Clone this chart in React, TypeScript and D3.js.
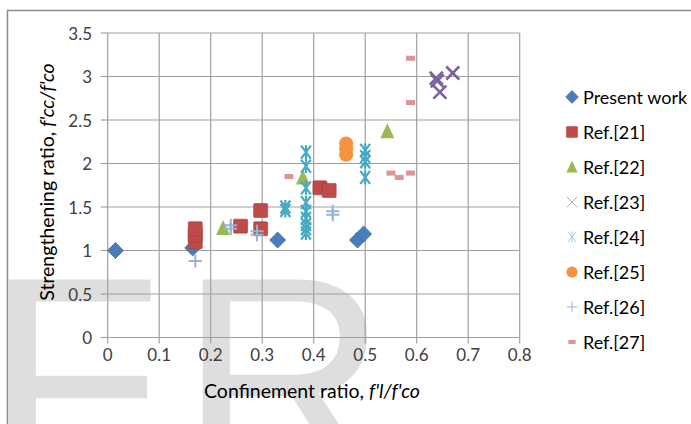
import React from "react";
import * as d3 from "d3";

// Confinement ratio (x) vs strengthening ratio (y) for each source
const presentX = [0.015, 0.165, 0.33, 0.485, 0.497];
const presentY = [1.0, 1.03, 1.12, 1.12, 1.19];

const ref21X = [0.17, 0.17, 0.17, 0.258, 0.297, 0.297, 0.412, 0.43];
const ref21Y = [1.1, 1.18, 1.25, 1.28, 1.46, 1.25, 1.72, 1.69];

const ref22X = [0.224, 0.379, 0.543];
const ref22Y = [1.26, 1.84, 2.37];

const ref23X = [0.638, 0.64, 0.645, 0.67];
const ref23Y = [2.98, 2.95, 2.82, 3.04];

const ref24X = [0.345, 0.345, 0.385, 0.385, 0.385, 0.385, 0.385, 0.385, 0.385, 0.385, 0.385, 0.5, 0.5, 0.5, 0.5];
const ref24Y = [1.5, 1.46, 2.13, 1.97, 1.72, 1.55, 1.45, 1.37, 1.3, 1.25, 1.2, 2.15, 2.08, 2.02, 1.84];

const ref25X = [0.463, 0.463, 0.463];
const ref25Y = [2.1, 2.17, 2.23];

const ref26X = [0.17, 0.239, 0.239, 0.29, 0.29, 0.437, 0.437];
const ref26Y = [0.88, 1.25, 1.29, 1.18, 1.22, 1.41, 1.45];

const ref27X = [0.352, 0.55, 0.566, 0.588, 0.588, 0.588];
const ref27Y = [1.85, 1.89, 1.84, 1.89, 2.7, 3.21];

const xTicks = [0, 0.1, 0.2, 0.3, 0.4, 0.5, 0.6, 0.7, 0.8];
const yTicks = [0, 0.5, 1, 1.5, 2, 2.5, 3, 3.5];

const seriesNames = ["Present work", "Ref.[21]", "Ref.[22]", "Ref.[23]", "Ref.[24]", "Ref.[25]", "Ref.[26]", "Ref.[27]"];

type Kind = "diamond" | "square" | "triangle" | "x" | "star" | "circle" | "plus" | "dash";

const series: { name: string; xs: number[]; ys: number[]; kind: Kind; color: string; light: string }[] = [
  { name: seriesNames[0], xs: presentX, ys: presentY, kind: "diamond", color: "#4A7EBB", light: "#4A7EBB" },
  { name: seriesNames[1], xs: ref21X, ys: ref21Y, kind: "square", color: "#BE4B48", light: "#BE4B48" },
  { name: seriesNames[2], xs: ref22X, ys: ref22Y, kind: "triangle", color: "#98B954", light: "#98B954" },
  { name: seriesNames[3], xs: ref23X, ys: ref23Y, kind: "x", color: "#7D60A0", light: "#B3A2C7" },
  { name: seriesNames[4], xs: ref24X, ys: ref24Y, kind: "star", color: "#46AAC5", light: "#93CDDD" },
  { name: seriesNames[5], xs: ref25X, ys: ref25Y, kind: "circle", color: "#F69240", light: "#F69240" },
  { name: seriesNames[6], xs: ref26X, ys: ref26Y, kind: "plus", color: "#95B3D7", light: "#95B3D7" },
  { name: seriesNames[7], xs: ref27X, ys: ref27Y, kind: "dash", color: "#D99694", light: "#D99694" },
];

const W = 691;
const H = 424;
const FONT = "Lato, 'Open Sans', sans-serif";

const x = d3.scaleLinear().domain([0, 0.8]).range([107.7, 519.7]);
const y = d3.scaleLinear().domain([0, 3.5]).range([337.5, 33]);

function Marker({ kind, cx, cy, color, thin }: { kind: Kind; cx: number; cy: number; color: string; thin?: boolean }) {
  const s = 7;
  const sw = thin ? 1.2 : 2.6;
  switch (kind) {
    case "diamond": {
      const d = 8;
      return (
        <path
          d={`M${cx},${cy - d}L${cx + d},${cy}L${cx},${cy + d}L${cx - d},${cy}Z`}
          fill={color}
          stroke="#3A6AA5"
          strokeWidth={0.8}
        />
      );
    }
    case "square":
      return <rect x={cx - s} y={cy - s} width={2 * s} height={2 * s} fill={color} stroke="#A23C3A" strokeWidth={0.6} rx={1} />;
    case "triangle":
      return <path d={`M${cx},${cy - s - 1}L${cx + s},${cy + s}L${cx - s},${cy + s}Z`} fill={color} />;
    case "x": {
      const r = 6.5;
      return (
        <path
          d={`M${cx - r},${cy - r}L${cx + r},${cy + r}M${cx - r},${cy + r}L${cx + r},${cy - r}`}
          stroke={color}
          strokeWidth={sw}
          fill="none"
        />
      );
    }
    case "star": {
      const r = 6.5;
      return (
        <path
          d={`M${cx - r * 0.75},${cy - r}L${cx + r * 0.75},${cy + r}M${cx - r * 0.75},${cy + r}L${cx + r * 0.75},${cy - r}M${cx},${cy - r - 0.5}L${cx},${cy + r + 0.5}`}
          stroke={color}
          strokeWidth={thin ? 1.2 : 2.2}
          fill="none"
        />
      );
    }
    case "circle":
      return <circle cx={cx} cy={cy} r={s} fill={color} />;
    case "plus": {
      const r = 6.5;
      return (
        <path
          d={`M${cx - r},${cy}L${cx + r},${cy}M${cx},${cy - r}L${cx},${cy + r}`}
          stroke={color}
          strokeWidth={thin ? 1.2 : 2}
          fill="none"
        />
      );
    }
    case "dash":
      return <rect x={cx - 4.5} y={cy - 2.5} width={9} height={5} fill={color} />;
  }
}

export default function App() {
  return (
    <svg
      width={W}
      height={H}
      style={{ position: "absolute", left: 0, top: 0, display: "block", background: "#fff" }}
      fontFamily={FONT}
    >
      <rect x={0} y={0} width={W} height={H} fill="#fff" />

      {/* background lettering */}
      <g fill="#DEDEDE" fontFamily="'Liberation Sans', Arial, sans-serif" fontSize={290}>
        <text x={-15} y={479}>F</text>
        <text x={179} y={479}>R</text>
      </g>

      {/* chart frame */}
      <rect x={7.5} y={10.5} width={720} height={500} fill="none" stroke="#8C8C8C" strokeWidth={1.5} />

      {/* grid */}
      <g stroke="#A0A0A0" strokeWidth={1.2}>
        {yTicks.map((t) => (
          <line key={"gy" + t} x1={x(0)} x2={x(0.8)} y1={y(t)} y2={y(t)} />
        ))}
        {xTicks.map((t) => (
          <line key={"gx" + t} x1={x(t)} x2={x(t)} y1={y(3.5)} y2={y(0)} />
        ))}
      </g>
      {/* ticks */}
      <g stroke="#A0A0A0" strokeWidth={1.2}>
        {yTicks.map((t) => (
          <line key={"ty" + t} x1={x(0) - 7} x2={x(0)} y1={y(t)} y2={y(t)} />
        ))}
        {xTicks.map((t) => (
          <line key={"tx" + t} x1={x(t)} x2={x(t)} y1={y(0)} y2={y(0) + 6} />
        ))}
      </g>

      {/* tick labels */}
      <g fontSize={17} fill="#404040">
        {yTicks.map((t) => (
          <text key={"ly" + t} x={92} y={y(t)} textAnchor="end" dominantBaseline="central">
            {d3.format("~g")(t)}
          </text>
        ))}
        {xTicks.map((t) => (
          <text key={"lx" + t} x={x(t)} y={354} textAnchor="middle" dominantBaseline="central">
            {d3.format("~g")(t)}
          </text>
        ))}
      </g>

      {/* axis titles */}
      <text x={312} y={390} textAnchor="middle" dominantBaseline="central" fontSize={19.5} fill="#000">
        Confinement ratio, <tspan fontStyle="italic">f'l/f'co</tspan>
      </text>
      <text
        transform={`translate(46,182) rotate(-90)`}
        textAnchor="middle"
        dominantBaseline="central"
        fontSize={19.5}
        fill="#000"
      >
        Strengthening ratio, <tspan fontStyle="italic">f'cc/f'co</tspan>
      </text>

      {/* data points */}
      {series.map((s) => (
        <g key={s.name}>
          {s.xs.map((v, i) => (
            <Marker key={i} kind={s.kind} cx={x(v)} cy={y(s.ys[i])} color={s.color} />
          ))}
        </g>
      ))}

      {/* legend */}
      {series.map((s, i) => {
        const cy = 97 + i * 35;
        return (
          <g key={"lg" + s.name}>
            <g transform={`translate(572,${cy}) scale(0.8) translate(-572,${-cy})`}>
              <Marker kind={s.kind} cx={572} cy={cy} color={s.light} thin />
            </g>
            <text x={583} y={cy} dominantBaseline="central" fontSize={18} fill="#000">
              {s.name}
            </text>
          </g>
        );
      })}
    </svg>
  );
}
